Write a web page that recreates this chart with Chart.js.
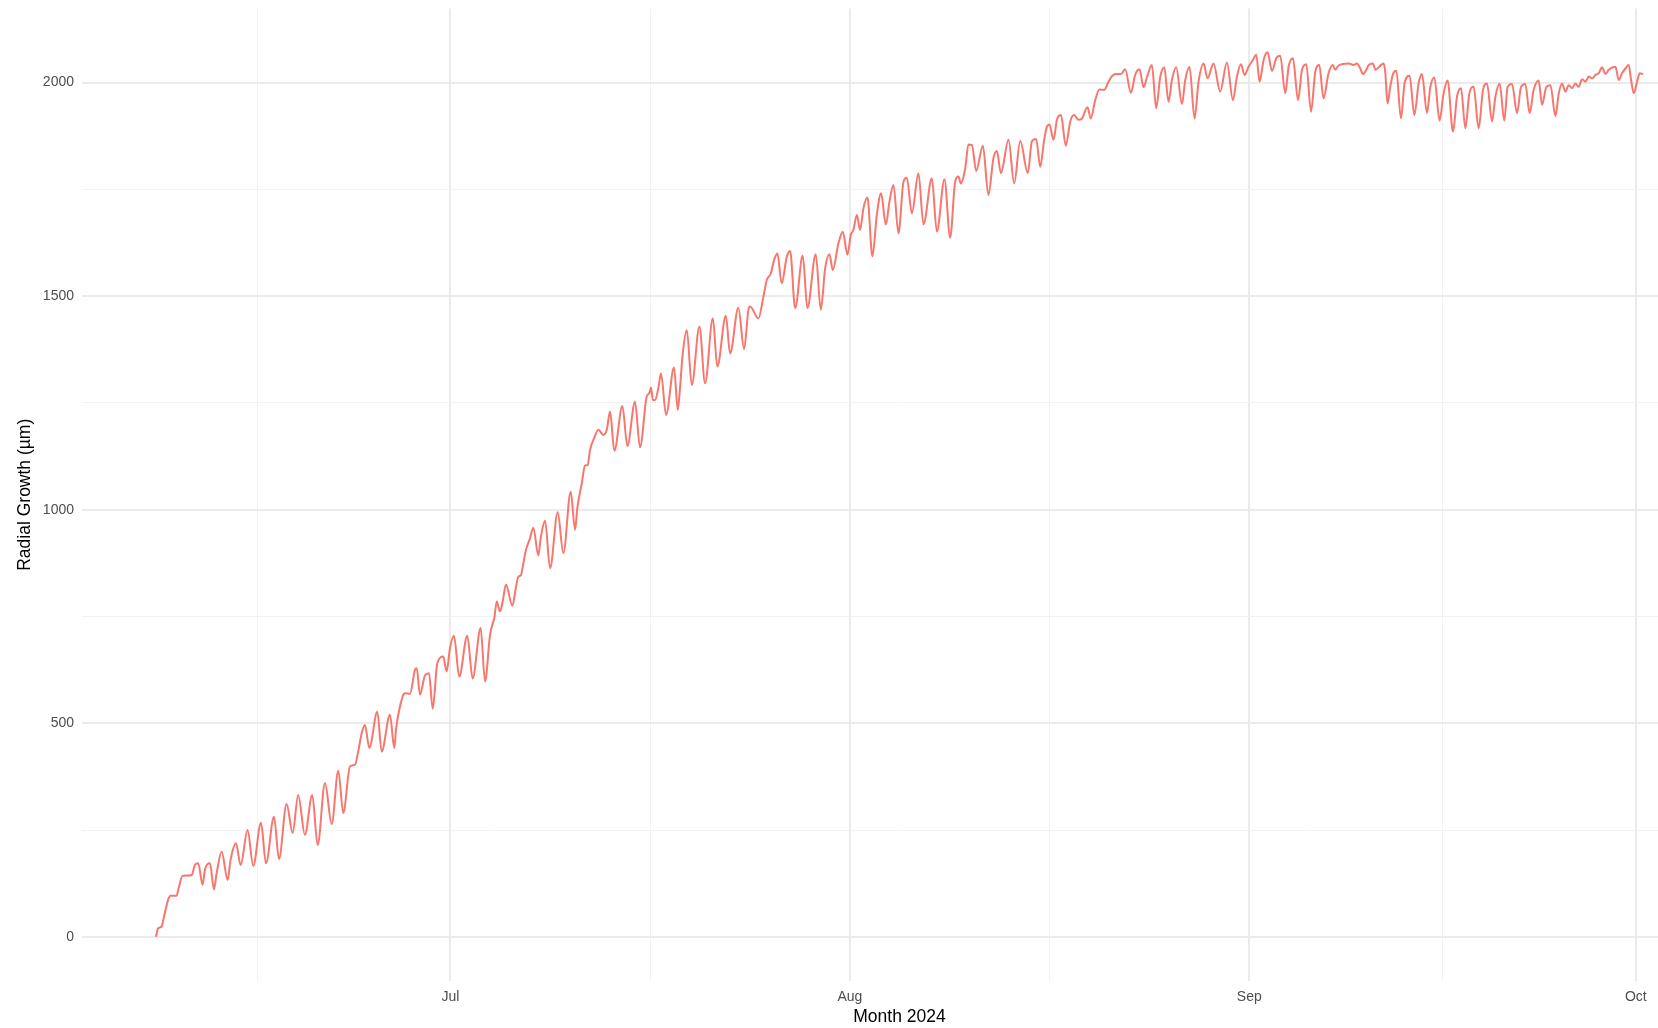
<!DOCTYPE html>
<html>
<head>
<meta charset="utf-8">
<title>Radial Growth 2024</title>
<script src="https://cdn.jsdelivr.net/npm/chart.js@4.4.1/dist/chart.umd.min.js"></script>
<style>
  html, body { margin: 0; padding: 0; background: #ffffff; overflow: hidden; }
  /* the panel is wider than the window and is cut at its right edge */
  canvas { display: block; }
</style>
</head>
<body>
<canvas id="growth" width="1717" height="1028"></canvas>
<script>
// Dendrometer record: time in days since 2024-07-01 00:00, radial growth in µm.
const juneDays = [
  -22.86, -22.69, -22.42, -22.24, -21.91, -21.72, -21.26, -21.13, -20.79, -20.09,
  -19.84, -19.58, -19.24, -19.06, -18.67, -18.36, -18.15, -17.76, -17.30, -17.07,
  -16.65, -16.29, -15.75, -15.31, -14.71, -14.32, -13.70, -13.31, -12.72, -12.25,
  -11.82, -11.30, -10.73, -10.31, -9.74, -9.22, -8.71, -8.32, -7.80, -7.41,
  -7.16, -6.89, -6.64, -6.30, -5.68, -5.34, -4.70, -4.36, -4.23, -3.71,
  -3.53, -3.14, -2.76, -2.62, -2.37, -1.98, -1.67, -1.38, -1.02, -0.56,
  -0.30, -0.04
];
const juneGrowth = [
  0, 20, 24, 47, 87, 96, 96, 110, 143, 144,
  168, 172, 122, 157, 172, 111, 149, 200, 133, 180,
  219, 168, 250, 166, 267, 172, 281, 182, 311, 243,
  332, 239, 332, 215, 360, 264, 389, 290, 399, 403,
  434, 477, 496, 442, 527, 434, 520, 442, 485, 563,
  570, 569, 625, 629, 567, 612, 617, 534, 641, 656,
  621, 676
];

const julyDays = [
  0.27, 0.68, 1.30, 1.72, 2.34, 2.68, 3.07, 3.28, 3.40, 3.59,
  3.84, 4.05, 4.31, 4.80, 5.09, 5.26, 5.47, 5.61, 5.86, 6.17,
  6.43, 6.82, 7.00, 7.34, 7.73, 8.32, 8.76, 9.33, 9.67, 9.84,
  10.19, 10.44, 10.65, 10.83, 11.14, 11.48, 11.86, 12.13, 12.38, 12.72,
  13.34, 13.73, 14.32, 14.71, 15.23, 15.43, 15.57, 15.70, 15.88, 16.13,
  16.34, 16.73, 17.35, 17.64, 17.76, 18.03, 18.34, 18.73, 19.32, 19.76,
  20.36, 20.71, 21.37, 21.70, 22.34, 22.79, 23.12, 23.25, 23.90, 24.29,
  24.55, 24.86, 25.12, 25.37, 25.71, 26.10, 26.36, 26.75, 27.34, 27.70,
  28.35, 28.74, 29.08, 29.41, 29.67, 30.11, 30.45, 30.81
];
const julyGrowth = [
  705, 609, 705, 605, 723, 598, 707, 734, 746, 785,
  762, 785, 825, 775, 820, 843, 847, 867, 906, 933,
  958, 893, 933, 974, 863, 994, 898, 1042, 953, 1003,
  1062, 1103, 1105, 1140, 1167, 1187, 1175, 1187, 1230, 1138,
  1243, 1149, 1253, 1146, 1265, 1273, 1286, 1257, 1257, 1284,
  1319, 1222, 1333, 1234, 1265, 1366, 1421, 1292, 1429, 1296,
  1448, 1335, 1454, 1366, 1473, 1376, 1468, 1476, 1448, 1499,
  1538, 1553, 1585, 1600, 1530, 1592, 1606, 1472, 1595, 1472,
  1598, 1468, 1565, 1598, 1561, 1624, 1651, 1597
];

const augustDays = [
  31.07, 31.27, 31.54, 31.79, 32.05, 32.36, 32.75, 33.09, 33.42, 33.79,
  34.07, 34.38, 34.77, 35.16, 35.42, 35.81, 36.32, 36.71, 37.36, 37.75,
  38.34, 38.78, 39.17, 39.43, 39.61, 39.95, 40.20, 40.47, 40.80, 41.32,
  41.75, 42.14, 42.41, 42.72, 43.31, 43.75, 44.22, 44.81, 45.12, 45.46,
  45.77, 46.08, 46.29, 46.49, 46.80, 47.07, 47.38, 47.76, 48.10, 48.41,
  48.74, 49.01, 49.44, 49.70, 50.04, 50.37, 50.74, 51.07, 51.34, 51.67,
  52.03, 52.37, 52.81, 53.14, 53.48, 53.79, 54.05, 54.44, 54.77, 55.09,
  55.40, 55.73, 55.99, 56.33, 56.77, 57.03, 57.36, 57.75, 58.06, 58.45,
  58.76, 59.22, 59.74, 60.26, 60.73, 61.04, 61.35, 61.63, 61.94
];
const augustGrowth = [
  1643, 1655, 1690, 1655, 1706, 1731, 1593, 1690, 1741, 1668,
  1721, 1760, 1647, 1768, 1777, 1694, 1788, 1668, 1776, 1651,
  1774, 1637, 1768, 1780, 1764, 1799, 1855, 1854, 1793, 1852,
  1737, 1823, 1840, 1788, 1866, 1764, 1863, 1788, 1862, 1868,
  1803, 1866, 1897, 1902, 1866, 1913, 1924, 1852, 1909, 1924,
  1913, 1916, 1942, 1916, 1959, 1984, 1983, 2002, 2015, 2020,
  2020, 2031, 1976, 2018, 2031, 1989, 2012, 2041, 1940, 2014,
  2036, 1955, 2006, 2036, 1950, 2006, 2037, 1916, 2002, 2045,
  2010, 2045, 1979, 2047, 1959, 2014, 2043, 2018, 2037
];

const septemberDays = [
  62.28, 62.54, 62.80, 63.11, 63.42, 63.76, 64.09, 64.40, 64.79, 65.05,
  65.39, 65.78, 66.09, 66.42, 66.79, 67.12, 67.43, 67.76, 68.15, 68.49,
  68.67, 68.93, 69.71, 70.09, 70.36, 70.61, 70.82, 71.08, 71.26, 71.60,
  71.78, 72.22, 72.42, 72.55, 72.73, 72.94, 73.15, 73.41, 73.77, 74.05,
  74.44, 74.81, 75.14, 75.40, 75.79, 76.05, 76.36, 76.77, 77.08, 77.39,
  77.81, 78.12, 78.43, 78.77, 79.08, 79.41, 79.80, 80.14, 80.45, 80.84,
  81.10, 81.43, 81.79, 82.05, 82.39, 82.78, 83.09, 83.42, 83.76, 84.07,
  84.46, 84.72, 85.06, 85.37, 85.76, 86.02, 86.27, 86.53, 86.79, 87.05,
  87.31, 87.56, 87.83, 88.09, 88.35, 88.61, 88.87, 89.12, 89.38, 89.64,
  89.90, 90.42, 90.67, 90.93, 91.19, 91.45, 91.63, 91.84
];
const septemberGrowth = [
  2053, 2065, 2002, 2053, 2071, 2027, 2057, 2063, 1975, 2037,
  2057, 1959, 2030, 2043, 1932, 2025, 2041, 1963, 2022, 2041,
  2030, 2040, 2045, 2041, 2045, 2033, 2020, 2030, 2041, 2045,
  2030, 2041, 2045, 2025, 1951, 1990, 2020, 2028, 1916, 1998,
  2016, 1924, 1998, 2020, 1929, 1990, 2012, 1911, 1975, 2005,
  1885, 1967, 1987, 1893, 1975, 1990, 1893, 1983, 1998, 1909,
  1967, 1998, 1911, 1990, 1997, 1928, 1990, 1997, 1928, 1983,
  2005, 1948, 1990, 1994, 1922, 1975, 1998, 1979, 1994, 1987,
  1998, 1990, 2008, 2002, 2014, 2010, 2018, 2022, 2036, 2020,
  2030, 2037, 2006, 2022, 2033, 2041, 2006, 1975
];

const octoberDays = [92.10, 92.30, 92.56];
const octoberGrowth = [2002, 2022, 2020];

// Axis ticks: month starts carry labels, mid-month lines are minor.
const monthTickDays = [0, 31, 62, 92];
const monthTickLabels = ['Jul', 'Aug', 'Sep', 'Oct'];
const xGridDays = [-15, 0, 15.5, 31, 46.5, 62, 77, 92];
const yGridValues = [0, 250, 500, 750, 1000, 1250, 1500, 1750, 2000];
const yLabelStep = 500;

const xMin = -28.6, xMax = 98.3;
const yMin = -103.5, yMax = 2173.5;

const sampleDays = [].concat(juneDays, julyDays, augustDays, septemberDays, octoberDays);
const sampleGrowth = [].concat(juneGrowth, julyGrowth, augustGrowth, septemberGrowth, octoberGrowth);
const points = sampleDays.map((d, i) => ({ x: d, y: sampleGrowth[i] }));

const fontFamily = '"Liberation Sans", Arial, Helvetica, sans-serif';
const majorGrid = '#EBEBEB';
const minorGrid = '#F2F2F2';
const tickColor = '#4D4D4D';

const isMonthTick = v => monthTickDays.indexOf(v) !== -1;
const isLabelledY = v => v % yLabelStep === 0;

const zeroPadding = s => {
  s.paddingLeft = 0;
  s.paddingRight = 0;
  s.paddingTop = 0;
  s.paddingBottom = 0;
};

new Chart(document.getElementById('growth'), {
  type: 'line',
  data: {
    datasets: [{
      data: points,
      borderColor: '#F8766D',
      borderWidth: 2,
      pointRadius: 0,
      fill: false,
      cubicInterpolationMode: 'monotone'
    }]
  },
  options: {
    responsive: false,
    animation: false,
    events: [],
    layout: {
      autoPadding: false,
      padding: { left: 0, top: 8.5, right: 0, bottom: 0 }
    },
    plugins: {
      legend: { display: false },
      tooltip: { enabled: false }
    },
    scales: {
      x: {
        type: 'linear',
        min: xMin,
        max: xMax,
        afterBuildTicks: s => { s.ticks = xGridDays.map(v => ({ value: v })); },
        afterFit: s => { s.height = 47; zeroPadding(s); },
        border: { display: false },
        grid: {
          drawTicks: false,
          color: c => (c.tick && isMonthTick(c.tick.value)) ? majorGrid : minorGrid,
          lineWidth: c => (c.tick && isMonthTick(c.tick.value)) ? 2 : 1
        },
        ticks: {
          autoSkip: false,
          maxRotation: 0,
          minRotation: 0,
          padding: 8,
          color: tickColor,
          font: { family: fontFamily, size: 14 },
          callback: v => {
            const i = monthTickDays.indexOf(v);
            return i === -1 ? '' : monthTickLabels[i];
          }
        },
        title: {
          display: true,
          text: 'Month 2024',
          color: '#000000',
          font: { family: fontFamily, size: 17.5 },
          padding: { top: 0, bottom: 0 }
        }
      },
      y: {
        type: 'linear',
        min: yMin,
        max: yMax,
        afterBuildTicks: s => { s.ticks = yGridValues.map(v => ({ value: v })); },
        afterFit: s => { s.width = 82; zeroPadding(s); },
        border: { display: false },
        grid: {
          drawTicks: false,
          color: c => (c.tick && isLabelledY(c.tick.value)) ? majorGrid : minorGrid,
          lineWidth: c => (c.tick && isLabelledY(c.tick.value)) ? 2 : 1
        },
        ticks: {
          padding: 8,
          color: tickColor,
          font: { family: fontFamily, size: 14 },
          callback: v => isLabelledY(v) ? String(v) : ''
        },
        title: {
          display: true,
          text: 'Radial Growth (µm)',
          color: '#000000',
          font: { family: fontFamily, size: 17.5 },
          padding: { top: 14.5, bottom: 0 }
        }
      }
    }
  }
});
</script>
</body>
</html>
